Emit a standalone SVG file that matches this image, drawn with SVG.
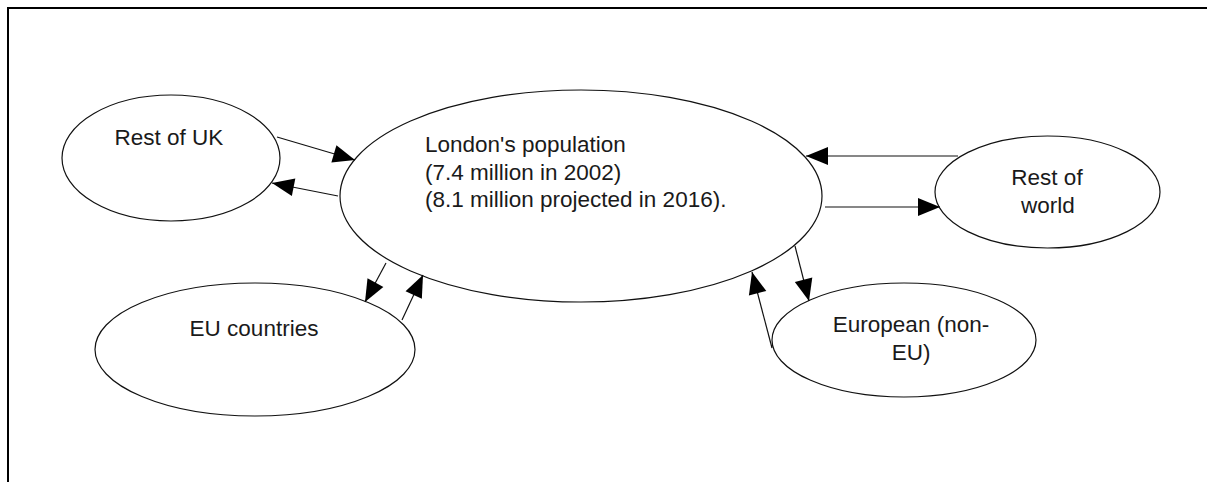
<svg xmlns="http://www.w3.org/2000/svg" width="1207" height="482" viewBox="0 0 1207 482">
<style>
.node ellipse{fill:#fff;stroke:#111;stroke-width:1.2}
.node text{font-family:"Liberation Sans",Arial,sans-serif;font-size:22.5px;fill:#1a1a1a}
.c{text-anchor:middle}
.conn line{stroke:#111;stroke-width:1.2;marker-end:url(#ah)}
</style>
<defs>
<marker id="ah" markerUnits="userSpaceOnUse" markerWidth="24" markerHeight="20" refX="22" refY="9" orient="auto" overflow="visible">
<path d="M0,0 L22,9 L0,18 z" fill="#000"/>
</marker>
</defs>
<rect width="1207" height="482" fill="#fff"/>
<path d="M8,482 V8 H1207" fill="none" stroke="#000" stroke-width="2"/>
<g id="n-restuk" class="node">
<ellipse cx="171" cy="158" rx="109" ry="63"/>
<text class="c" x="169" y="145">Rest of UK</text>
</g>
<g id="n-london" class="node">
<ellipse cx="581" cy="196" rx="241" ry="106"/>
<text x="425" y="152">London's population</text>
<text x="425" y="179.5">(7.4 million in 2002)</text>
<text x="425" y="207">(8.1 million projected in 2016).</text>
</g>
<g id="n-restworld" class="node">
<ellipse cx="1047.5" cy="192" rx="112.5" ry="56"/>
<text class="c" x="1047" y="185">Rest of</text>
<text class="c" x="1048" y="212.5">world</text>
</g>
<g id="n-eu" class="node">
<ellipse cx="255" cy="349.5" rx="160" ry="66.5"/>
<text class="c" x="254" y="336">EU countries</text>
</g>
<g id="n-european" class="node">
<ellipse cx="904" cy="340" rx="132" ry="57"/>
<text class="c" x="911" y="332">European (non-</text>
<text class="c" x="911" y="360">EU)</text>
</g>
<g id="connectors" class="conn">
<line x1="277" y1="137" x2="355" y2="160"/>
<line x1="338" y1="196" x2="272" y2="183"/>
<line x1="958" y1="156" x2="806" y2="156"/>
<line x1="825" y1="207" x2="940" y2="207"/>
<line x1="386" y1="263" x2="365" y2="302"/>
<line x1="402" y1="320" x2="423" y2="275"/>
<line x1="795" y1="246" x2="809" y2="301"/>
<line x1="772" y1="348" x2="752" y2="272"/>
</g>
</svg>
